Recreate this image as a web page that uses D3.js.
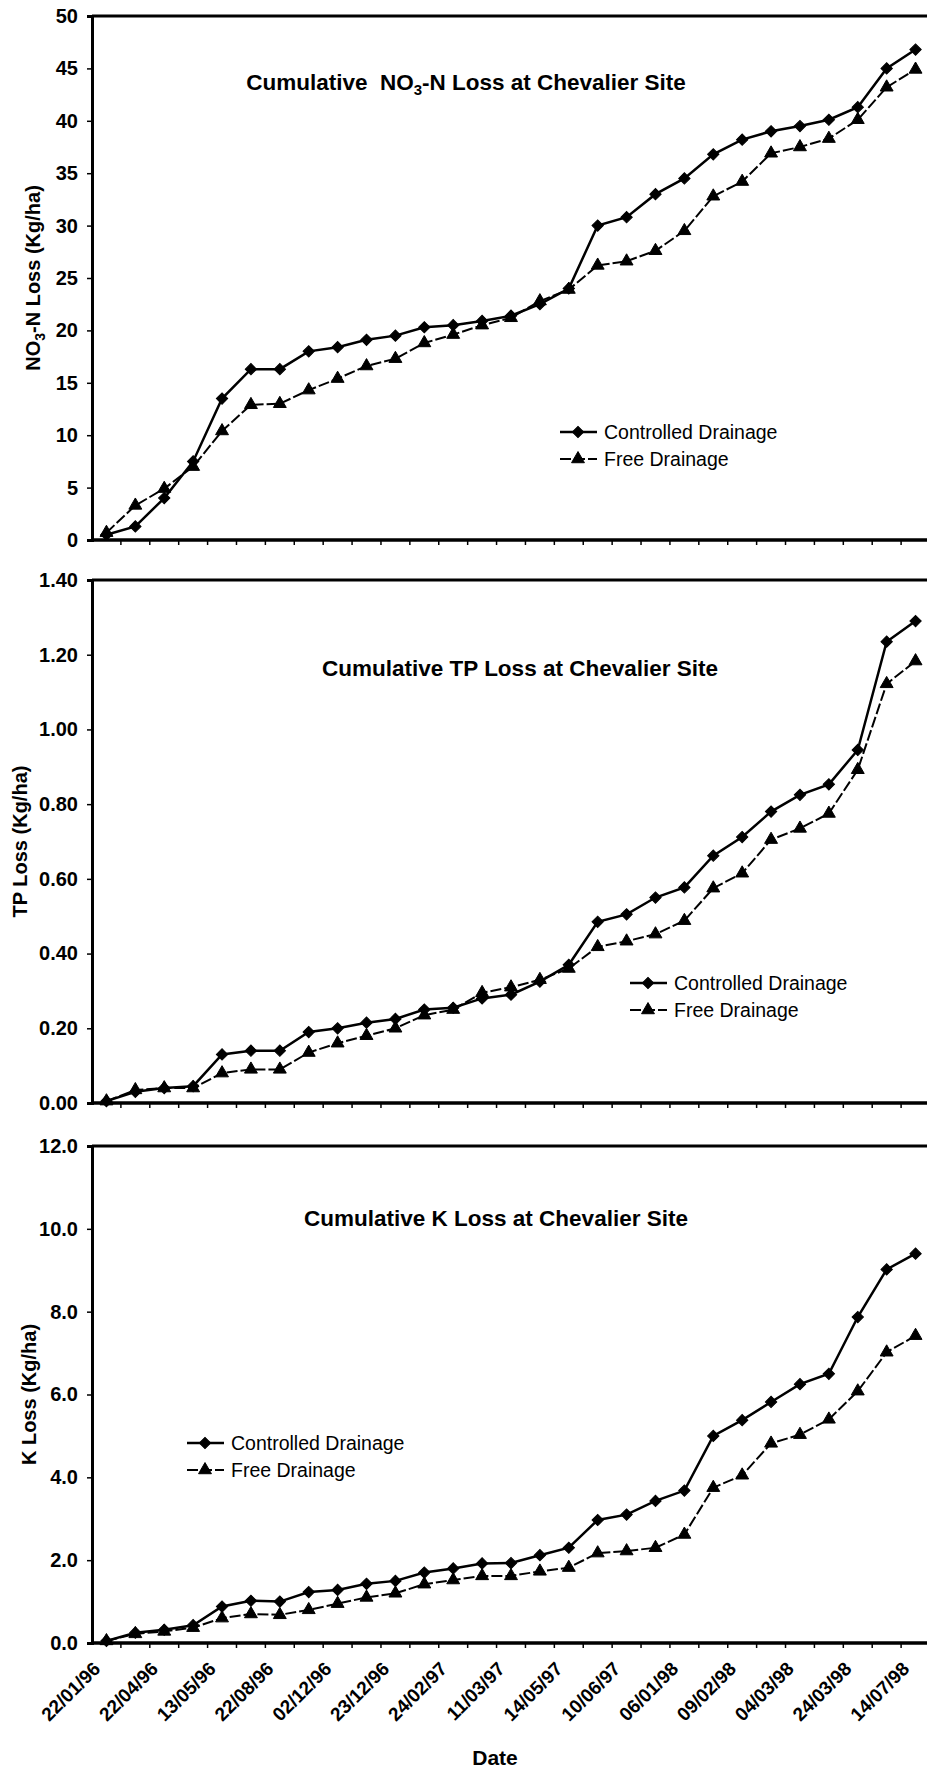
<!DOCTYPE html>
<html>
<head>
<meta charset="utf-8">
<script src="https://cdn.jsdelivr.net/npm/d3@7"></script>
<style>
    body { margin: 0; background: #fff; }
    svg { display: block; font-family: "Liberation Sans", Arial, sans-serif; }
</style>
</head>
<body>
<svg id="chart" width="927" height="1769"></svg>
<script>
// Date labels, shown on every second sampling date
const tickLabels = ['22/01/96', '22/04/96', '13/05/96', '22/08/96', '02/12/96', '23/12/96', '24/02/97',
    '11/03/97', '14/05/97', '10/06/97', '06/01/98', '09/02/98', '04/03/98', '24/03/98', '14/07/98'];

// Cumulative NO3-N loss (kg/ha)
const no3Controlled = [0.5, 1.3, 4.0, 7.5, 13.5, 16.3, 16.3, 18.0, 18.4, 19.1, 19.5, 20.3, 20.5, 20.9, 21.4,
    22.5, 24.0, 30.0, 30.8, 33.0, 34.5, 36.8, 38.2, 39.0, 39.5, 40.1, 41.3, 45.0, 46.8];
const no3Free = [0.7, 3.3, 4.9, 7.0, 10.4, 12.9, 13.0, 14.3, 15.4, 16.6, 17.3, 18.8, 19.6, 20.5, 21.2,
    22.8, 23.9, 26.2, 26.6, 27.6, 29.5, 32.8, 34.2, 36.9, 37.5, 38.3, 40.1, 43.2, 44.9];

// Cumulative TP loss (kg/ha)
const tpControlled = [0.005, 0.03, 0.04, 0.045, 0.13, 0.14, 0.14, 0.19, 0.20, 0.215, 0.225, 0.25, 0.255, 0.28, 0.29,
    0.325, 0.37, 0.485, 0.505, 0.55, 0.577, 0.662, 0.712, 0.78, 0.825, 0.853, 0.945, 1.235, 1.29];
const tpFree = [0.005, 0.035, 0.04, 0.04, 0.08, 0.09, 0.09, 0.135, 0.16, 0.18, 0.20, 0.235, 0.25, 0.295, 0.31,
    0.33, 0.36, 0.418, 0.433, 0.452, 0.488, 0.575, 0.615, 0.705, 0.735, 0.775, 0.892, 1.122, 1.183];

// Cumulative K loss (kg/ha)
const kControlled = [0.05, 0.25, 0.32, 0.43, 0.88, 1.02, 1.00, 1.23, 1.28, 1.43, 1.50, 1.70, 1.80, 1.92, 1.93,
    2.12, 2.30, 2.97, 3.10, 3.43, 3.68, 5.00, 5.38, 5.82, 6.25, 6.50, 7.87, 9.02, 9.40];
const kFree = [0.05, 0.22, 0.28, 0.37, 0.60, 0.70, 0.68, 0.80, 0.95, 1.10, 1.20, 1.42, 1.52, 1.62, 1.62,
    1.73, 1.82, 2.17, 2.22, 2.30, 2.62, 3.75, 4.05, 4.82, 5.03, 5.40, 6.08, 7.02, 7.42];

const no3Ticks = [0, 5, 10, 15, 20, 25, 30, 35, 40, 45, 50];
const tpTicks = [0, 0.2, 0.4, 0.6, 0.8, 1.0, 1.2, 1.4];
const kTicks = [0, 2, 4, 6, 8, 10, 12];

const seriesNames = ['Controlled Drainage', 'Free Drainage'];

const svg = d3.select('#chart');
svg.append('rect').attr('width', 927).attr('height', 1769).attr('fill', '#fff');

// plot runs a little past the right edge of the page, as in the scan
const plotLeft = 92;
const plotRight = 930;
const categories = no3Controlled.map((d, i) => i);

const x = d3.scaleBand()
    .domain(categories)
    .range([plotLeft, plotRight])
    .padding(0);

const diamond = d3.symbol().type(d3.symbolSquare).size(64);
const triangle = d3.symbol().type(d3.symbolTriangle).size(72);

function drawMarkers(g, pts, isDiamond) {
    g.selectAll(null)
        .data(pts)
        .enter()
        .append('path')
        .attr('d', isDiamond ? diamond : triangle)
        .attr('transform', d => `translate(${d[0]},${d[1]})` + (isDiamond ? ' rotate(45)' : ''))
        .attr('fill', '#000')
        .attr('stroke', '#000')
        .attr('stroke-width', 1);
}

function drawPanel(cfg) {
    const y = d3.scaleLinear()
        .domain([0, cfg.ticks[cfg.ticks.length - 1]])
        .range([cfg.bottom, cfg.top]);

    const g = svg.append('g');

    // Y axis
    const yAxis = g.append('g')
        .attr('transform', `translate(${plotLeft},0)`)
        .call(d3.axisLeft(y).tickValues(cfg.ticks).tickFormat(cfg.format).tickSize(5).tickPadding(9));
    yAxis.select('.domain').attr('stroke-width', 3);
    yAxis.selectAll('.tick line').attr('stroke-width', 1.5);
    yAxis.selectAll('.tick text')
        .style('font-size', '20px')
        .style('font-weight', 'bold')
        .style('font-family', '"Liberation Sans", Arial, sans-serif');

    // top frame and category axis
    g.append('line')
        .attr('x1', plotLeft).attr('x2', plotRight)
        .attr('y1', cfg.top).attr('y2', cfg.top)
        .attr('stroke', '#000').attr('stroke-width', 3);
    g.append('line')
        .attr('x1', plotLeft).attr('x2', plotRight)
        .attr('y1', cfg.bottom).attr('y2', cfg.bottom)
        .attr('stroke', '#000').attr('stroke-width', 3.5);

    // tick marks sit between categories
    g.selectAll('.xtick')
        .data(categories.slice(1))
        .enter()
        .append('line')
        .attr('x1', d => x(d)).attr('x2', d => x(d))
        .attr('y1', cfg.bottom).attr('y2', cfg.bottom + 5)
        .attr('stroke', '#000').attr('stroke-width', 1.5);

    if (cfg.showDates) {
        g.selectAll('.xlabel')
            .data(tickLabels)
            .enter()
            .append('text')
            .attr('transform', (d, i) => `translate(${x(i * 2) + x.bandwidth() / 2 - 5},${cfg.bottom + 27}) rotate(-45)`)
            .attr('text-anchor', 'end')
            .style('font-size', '19px')
            .style('font-weight', 'bold')
            .text(d => d);
    }

    // Y axis title
    const yt = g.append('text')
        .attr('transform', `translate(${cfg.yTitleX},${(cfg.top + cfg.bottom) / 2}) rotate(-90)`)
        .attr('text-anchor', 'middle')
        .style('font-size', '20px')
        .style('font-weight', 'bold');
    cfg.yTitle.forEach(p => {
        yt.append('tspan')
            .attr('dy', p.sub ? 5 : (p.after ? -5 : 0))
            .style('font-size', p.sub ? '14px' : null)
            .text(p.t);
    });

    // chart title
    const tt = g.append('text')
        .attr('x', cfg.titleX)
        .attr('y', cfg.titleY)
        .attr('text-anchor', 'middle')
        .style('font-size', '22.5px')
        .style('font-weight', 'bold')
        .attr('xml:space', 'preserve');
    cfg.title.forEach(p => {
        tt.append('tspan')
            .attr('dy', p.sub ? 5 : (p.after ? -5 : 0))
            .style('font-size', p.sub ? '15px' : null)
            .text(p.t);
    });

    // lines
    const line = d3.line()
        .x((d, i) => x(i) + x.bandwidth() / 2)
        .y(d => y(d));

    g.append('path')
        .datum(cfg.free)
        .attr('d', line)
        .attr('fill', 'none')
        .attr('stroke', '#000')
        .attr('stroke-width', 2)
        .attr('stroke-dasharray', '11,3');

    g.append('path')
        .datum(cfg.controlled)
        .attr('d', line)
        .attr('fill', 'none')
        .attr('stroke', '#000')
        .attr('stroke-width', 2.5);

    drawMarkers(g, cfg.free.map((d, i) => [x(i) + x.bandwidth() / 2, y(d)]), false);
    drawMarkers(g, cfg.controlled.map((d, i) => [x(i) + x.bandwidth() / 2, y(d)]), true);

    // legend
    const lg = g.append('g').attr('transform', `translate(${cfg.legendX},${cfg.legendY})`);
    seriesNames.forEach((name, i) => {
        const row = lg.append('g').attr('transform', `translate(0,${i * 27})`);
        row.append('line')
            .attr('x1', 0).attr('x2', 37)
            .attr('stroke', '#000')
            .attr('stroke-width', i === 0 ? 2.5 : 2)
            .attr('stroke-dasharray', i === 0 ? null : '11,3');
        drawMarkers(row, [[18, 0]], i === 0);
        row.append('text')
            .attr('x', 44)
            .attr('dy', '0.35em')
            .style('font-size', '19.5px')
            .text(name);
    });
}

drawPanel({
    top: 16, bottom: 540,
    ticks: no3Ticks, format: d3.format('d'),
    controlled: no3Controlled, free: no3Free,
    title: [{ t: 'Cumulative  NO' }, { t: '3', sub: true }, { t: '-N Loss at Chevalier Site', after: true }],
    titleX: 466, titleY: 90,
    yTitle: [{ t: 'NO' }, { t: '3', sub: true }, { t: '-N Loss (Kg/ha)', after: true }],
    yTitleX: 40,
    legendX: 560, legendY: 432
});

drawPanel({
    top: 580, bottom: 1103,
    ticks: tpTicks, format: d3.format('.2f'),
    controlled: tpControlled, free: tpFree,
    title: [{ t: 'Cumulative TP Loss at Chevalier Site' }],
    titleX: 520, titleY: 676,
    yTitle: [{ t: 'TP Loss (Kg/ha)' }],
    yTitleX: 27,
    legendX: 630, legendY: 983
});

drawPanel({
    top: 1146, bottom: 1643,
    ticks: kTicks, format: d3.format('.1f'),
    controlled: kControlled, free: kFree,
    title: [{ t: 'Cumulative K Loss at Chevalier Site' }],
    titleX: 496, titleY: 1226,
    yTitle: [{ t: 'K Loss (Kg/ha)' }],
    yTitleX: 36,
    legendX: 187, legendY: 1443,
    showDates: true
});

svg.append('text')
    .attr('x', 495)
    .attr('y', 1765)
    .attr('text-anchor', 'middle')
    .style('font-size', '21px')
    .style('font-weight', 'bold')
    .text('Date');
</script>
</body>
</html>
